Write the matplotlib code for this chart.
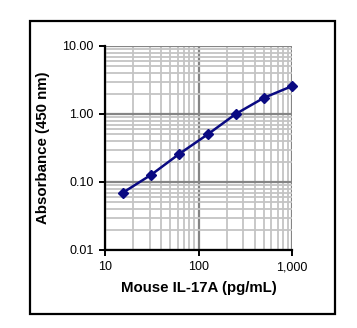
import matplotlib.pyplot as plt
from matplotlib.patches import Rectangle
from matplotlib.ticker import FixedLocator, LogLocator, NullFormatter

plt.rcParams['font.family'] = ['Liberation Sans', 'DejaVu Sans']

# standard curve data
conc = [15.6, 31.25, 62.5, 125, 250, 500, 1000]
absorb = [0.070, 0.128, 0.26, 0.50, 1.0, 1.73, 2.57]
x_ticks = [10, 100, 1000]
x_labels = ['10', '100', '1,000']
y_ticks = [0.01, 0.1, 1, 10]
y_labels = ['0.01', '0.10', '1.00', '10.00']

W, H = 357, 328
fig = plt.figure(figsize=(W / 100, H / 100), dpi=100)

# outer box
fig.patches.append(Rectangle((29.5 / W, 1 - 314 / H), 305.5 / W, 293 / H,
                             transform=fig.transFigure, fill=False,
                             edgecolor='black', linewidth=1.6))

ax = fig.add_axes([105 / W, 1 - 250 / H, 187 / W, 204 / H])
ax.set_xscale('log')
ax.set_yscale('log')
ax.set_xlim(10, 1000)
ax.set_ylim(0.01, 10)

ax.xaxis.set_major_locator(FixedLocator(x_ticks))
ax.yaxis.set_major_locator(FixedLocator(y_ticks))
ax.set_xticklabels(x_labels)
ax.set_yticklabels(y_labels)
ax.xaxis.set_minor_locator(LogLocator(base=10, subs=range(2, 10)))
ax.yaxis.set_minor_locator(LogLocator(base=10, subs=range(2, 10)))
ax.xaxis.set_minor_formatter(NullFormatter())
ax.yaxis.set_minor_formatter(NullFormatter())

ax.grid(which='minor', color='#c4c4c4', linewidth=1.3)
ax.grid(which='major', color='#858585', linewidth=1.6)
ax.set_axisbelow(True)

for s in ['top', 'right']:
    ax.spines[s].set_visible(False)
for s in ['left', 'bottom']:
    ax.spines[s].set_linewidth(1.6)
    ax.spines[s].set_color('black')

ax.tick_params(which='major', length=4, width=1.4, labelsize=9, pad=4)
ax.tick_params(which='minor', length=0)

ax.plot(conc, absorb, color='#0a0a82', linewidth=1.8, marker='D',
        markersize=5, clip_on=False, zorder=5)

ax.set_xlabel('Mouse IL-17A (pg/mL)', fontsize=10.8, fontweight='bold', labelpad=6)
ax.set_ylabel('Absorbance (450 nm)', fontsize=10.8, fontweight='bold', labelpad=9)

fig.savefig('out.png', dpi=100)
